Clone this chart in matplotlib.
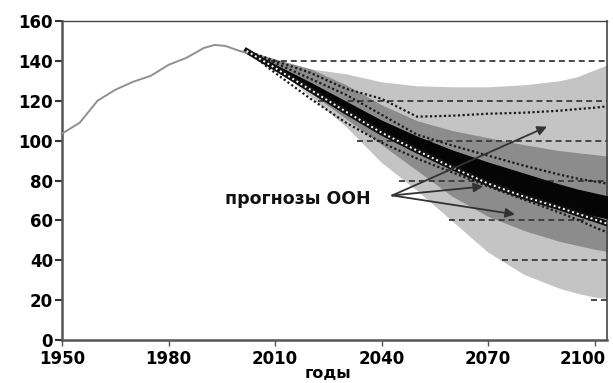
import matplotlib
matplotlib.use("Agg")
import matplotlib.pyplot as plt
import matplotlib.transforms as mtransforms

# historical population (millions)
hist_years = [1950, 1955, 1960, 1965, 1970, 1975, 1980, 1985, 1990, 1993, 1996, 2000, 2002]
hist_vals = [103.5, 109, 120, 125.5, 129.5, 132.5, 138, 141.5, 146.5, 148, 147.5, 145, 144]

# forecast fan
fan_years = [2002, 2010, 2020, 2030, 2040, 2050, 2060, 2070, 2080, 2090, 2095, 2100, 2105]
light_hi = [145, 139, 136, 133.5, 129.5, 127.5, 127, 127, 128, 130, 132, 135.5, 139]
light_lo = [145, 137, 122, 107, 89, 75, 59.5, 44, 33, 26, 23.5, 21.5, 20.5]
mid_hi = [145, 141, 136, 128, 118, 110, 105, 101.5, 98, 95, 94, 93, 92]
mid_lo = [145, 136, 124, 111, 98, 85, 72, 62, 55, 49.5, 47.5, 45.5, 44]
black_c = [145, 137, 127.5, 117.5, 107.5, 98.5, 90.5, 84, 78, 72.5, 70, 68, 66]
black_w = [0.5, 1, 1.5, 2, 2.5, 3.5, 4.5, 5, 5.5, 5.5, 5.5, 5.5, 5.5]

# UN forecast variants (dotted)
un_high = [145, 140, 134, 126, 121, 112, 112.5, 113.5, 114, 115, 115.8, 116.5, 117.5]
un_midhigh = [145, 139, 131, 123, 113, 103, 97.5, 92.5, 87.5, 83, 81, 79.5, 78]
un_mid = [145, 136.5, 125.5, 114.5, 104, 95, 86.5, 78.5, 72, 66.5, 63.5, 60.5, 57.5]
un_low = [145, 134, 121, 109, 99, 91, 84, 77, 70.5, 64, 60.5, 56.5, 53]

# dashed reference levels and where they start
dash_levels = [140, 120, 100, 80, 60, 40, 20]
dash_start = [2006, 2022, 2033, 2045, 2059, 2074, 2099]

x_ticks = [1950, 1980, 2010, 2040, 2070, 2100]
y_ticks = [0, 20, 40, 60, 80, 100, 120, 140, 160]

fig = plt.figure(figsize=(6.13, 3.83), dpi=100)
ax = fig.add_axes([62 / 613, 43 / 383, 545 / 613, 319 / 383])

ax.fill_between(fan_years, light_lo, light_hi, color="#c4c4c4", lw=0, zorder=1)
ax.fill_between(fan_years, mid_lo, mid_hi, color="#8c8c8c", lw=0, zorder=2)

for lev, x0 in zip(dash_levels, dash_start):
    ax.plot([x0, 2103.5], [lev, lev], color="#3a3a3a", lw=1.3,
            dashes=(3.3, 2.2), zorder=3)

lo = [c - w for c, w in zip(black_c, black_w)]
hi = [c + w for c, w in zip(black_c, black_w)]
ax.fill_between(fan_years, lo, hi, color="#050505", lw=0.8, edgecolor="#050505", zorder=4)

ax.plot(fan_years, un_mid, color="#111111", lw=4, zorder=5)
ax.plot(fan_years, un_mid, color="white", lw=1.4, dashes=(1, 1.5), zorder=6)
for series in (un_high, un_midhigh, un_low):
    ax.plot(fan_years, series, color="#1a1a1a", lw=1.6, dashes=(1, 1.1), zorder=5)

ax.plot(hist_years, hist_vals, color="#909090", lw=1.4, zorder=5)

# annotation with arrows
ax.text(2016.5, 70.5, "прогнозы ООН", ha="center", va="center",
        fontsize=12.5, fontweight="bold", color="#111111", zorder=8)
arrow_ends = [(2086.6, 107), (2068.6, 77), (2077.6, 63)]
for xe, ye in arrow_ends:
    ax.annotate("", xy=(xe, ye), xytext=(2043, 72.5),
                arrowprops=dict(arrowstyle="-|>", mutation_scale=14,
                                color="#333333", lw=1.3, shrinkA=0, shrinkB=0),
                zorder=7)

ax.set_xlim(1950, 2103.5)
ax.set_ylim(0, 160)
ax.set_xticks(x_ticks)
ax.set_yticks(y_ticks)
ax.set_xticklabels([str(t) for t in x_ticks], fontsize=12, fontweight="bold")
ax.set_yticklabels([str(t) for t in y_ticks], fontsize=12, fontweight="bold")
ax.tick_params(axis="y", length=5, width=1.5, pad=1.5, color="#333333")
ax.tick_params(axis="x", length=4, width=1, pad=3, color="#555555")

# shift the last year label inside the picture
last = ax.get_xticklabels()[-1]
last.set_transform(last.get_transform() +
                   mtransforms.ScaledTranslation(-12 / 100, 0, fig.dpi_scale_trans))

ax.spines["left"].set_color("#555555")
ax.spines["left"].set_linewidth(1.8)
ax.spines["bottom"].set_color("#555555")
ax.spines["bottom"].set_linewidth(1.8)
ax.spines["top"].set_color("#444444")
ax.spines["top"].set_linewidth(1)
ax.spines["right"].set_color("#444444")
ax.spines["right"].set_linewidth(1.2)

fig.text(328 / 613, 1 - 374 / 383, "годы", ha="center", va="center",
         fontsize=11.5, fontweight="bold")

fig.savefig("out.png", dpi=100)
